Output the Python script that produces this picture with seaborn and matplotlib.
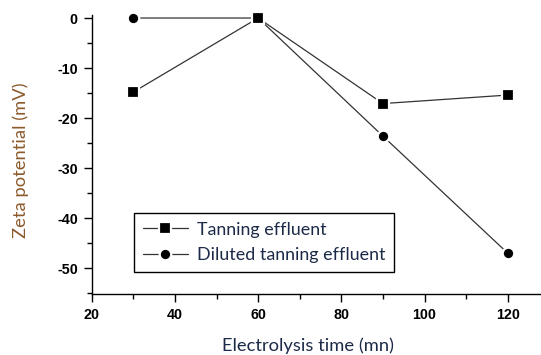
import matplotlib
matplotlib.use("Agg")
import matplotlib.pyplot as plt
from matplotlib.ticker import MultipleLocator
import seaborn as sns
import pandas as pd

# Electrolysis time (mn) and measured zeta potential (mV)
time_mn = [30, 60, 90, 120]
tanning = [-14.8, 0.0, -17.1, -15.4]
diluted = [0.0, 0.0, -23.6, -47.0]
series_names = ["Tanning effluent", "Diluted tanning effluent"]

sns.set_style("ticks")
plt.rcParams["axes.unicode_minus"] = False

df_tan = pd.DataFrame({"time": time_mn, "zeta": tanning})
df_dil = pd.DataFrame({"time": time_mn, "zeta": diluted})

fig = plt.figure(figsize=(5.41, 3.55), dpi=100)
ax = fig.add_axes([0.1695, 0.1727, 0.8305, 0.785])

line_kw = dict(color="#333333", linewidth=0.9, markeredgecolor="white",
               markeredgewidth=1.6, markerfacecolor="black")

# diluted series first so the square markers sit on top where they overlap
sns.lineplot(data=df_dil, x="time", y="zeta", ax=ax, marker="o", markersize=8.3,
             label=series_names[1], **line_kw)
sns.lineplot(data=df_tan, x="time", y="zeta", ax=ax, marker="s", markersize=8.3,
             label=series_names[0], **line_kw)
for ln in ax.lines:
    ln.set_clip_on(False)

ax.set_xlim(20, 128)
ax.set_ylim(-55.1, 0.6)
ax.xaxis.set_major_locator(MultipleLocator(20))
ax.xaxis.set_minor_locator(MultipleLocator(10))
ax.yaxis.set_major_locator(MultipleLocator(10))
ax.yaxis.set_minor_locator(MultipleLocator(5))

sns.despine(ax=ax)
for side in ("left", "bottom"):
    ax.spines[side].set_color("black")
    ax.spines[side].set_linewidth(1.0)

ax.tick_params(which="major", length=6, width=1.0, color="black", pad=4,
               labelsize=10.3, labelcolor="black")
ax.tick_params(which="minor", length=3.5, width=1.0, color="black")
for lbl in ax.get_xticklabels() + ax.get_yticklabels():
    lbl.set_fontfamily("Liberation Sans")
    lbl.set_fontweight("bold")

label_font = dict(family="Lato", size=13.2)
ax.set_xlabel("Electrolysis time (mn)", color="#1c2a48", **label_font)
ax.set_ylabel("Zeta potential (mV)", color="#8c5a2b", **label_font)
ax.xaxis.set_label_coords((308 - 91.7) / 449.3, (293.7 - 337) / 278.7)
ax.yaxis.set_label_coords((29 - 91.7) / 449.3, (293.7 - 160) / 278.7)

handles, labels = ax.get_legend_handles_labels()
order = [labels.index(n) for n in series_names]
leg = ax.legend([handles[i] for i in order], [labels[i] for i in order],
                loc="lower left", bbox_to_anchor=(0.0941, 0.0779), borderaxespad=0,
                frameon=True, fancybox=False, edgecolor="black", framealpha=1,
                prop=dict(family="Lato", size=12.9), handlelength=2.5,
                handletextpad=0.5, labelspacing=0.52, borderpad=0.5)
leg.get_frame().set_linewidth(1.0)
for t in leg.get_texts():
    t.set_color("#1c2a48")

fig.savefig("out.png", dpi=100)
